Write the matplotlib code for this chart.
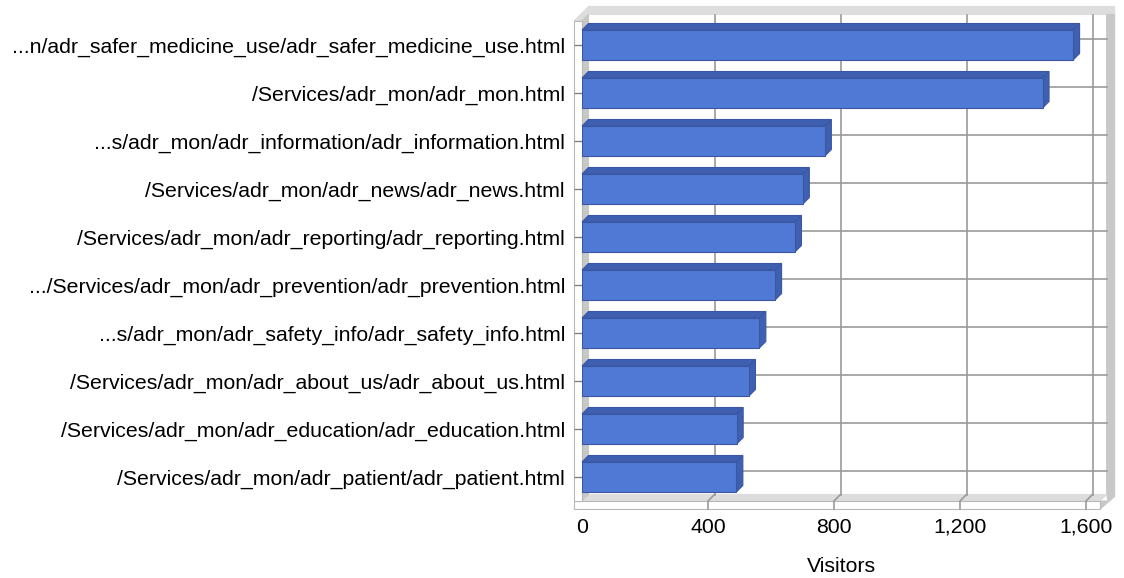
import matplotlib
matplotlib.use("Agg")
import matplotlib.pyplot as plt
from matplotlib import transforms
from matplotlib.patches import Polygon


pages = [
    "...n/adr_safer_medicine_use/adr_safer_medicine_use.html",
    "/Services/adr_mon/adr_mon.html",
    "...s/adr_mon/adr_information/adr_information.html",
    "/Services/adr_mon/adr_news/adr_news.html",
    "/Services/adr_mon/adr_reporting/adr_reporting.html",
    ".../Services/adr_mon/adr_prevention/adr_prevention.html",
    "...s/adr_mon/adr_safety_info/adr_safety_info.html",
    "/Services/adr_mon/adr_about_us/adr_about_us.html",
    "/Services/adr_mon/adr_education/adr_education.html",
    "/Services/adr_mon/adr_patient/adr_patient.html",
]
visitors = [1559, 1462, 771, 701, 676, 613, 563, 530, 491, 490]
x_ticks = [0, 400, 800, 1200, 1600]
x_tick_labels = ["0", "400", "800", "1,200", "1,600"]
x_max = 1645

FIG_W, FIG_H, DPI = 1124, 578, 100
AX_LEFT, AX_TOP, AX_BOTTOM = 582, 21, 501
PX_PER_UNIT = 0.315
AX_RIGHT = AX_LEFT + x_max * PX_PER_UNIT
DEPTH = 6.5
WALL = 8
BAR_HEIGHT = 0.625

FRONT = "#5079d5"
DARK = "#3f60b0"
EDGE = "#3a57a2"
GRID = "#9a9a9a"
WALL_SIDE = "#c8c8c8"
WALL_TOP = "#dddddd"
WALL_EDGE = "#b8b8b8"

plt.rcParams["font.family"] = ["Liberation Sans", "DejaVu Sans"]

fig = plt.figure(figsize=(FIG_W / DPI, FIG_H / DPI), dpi=DPI)
ax = fig.add_axes([
    AX_LEFT / FIG_W,
    (FIG_H - AX_BOTTOM) / FIG_H,
    (AX_RIGHT - AX_LEFT) / FIG_W,
    (AX_BOTTOM - AX_TOP) / FIG_H,
])
n = len(pages)
ax.set_xlim(0, x_max)
ax.set_ylim(n - 0.5, -0.5)
ax.patch.set_visible(False)
for spine in ax.spines.values():
    spine.set_visible(False)

px_per_cat = (AX_BOTTOM - AX_TOP) / n
ddx = DEPTH / PX_PER_UNIT
ddy = DEPTH / px_per_cat
back = ax.transData + transforms.ScaledTranslation(DEPTH / DPI, DEPTH / DPI, fig.dpi_scale_trans)

# pixel coordinates measured from the top-left of the image, for the chart walls
pix = transforms.Affine2D().scale(1, -1).translate(0, FIG_H).scale(1 / DPI) + fig.dpi_scale_trans


def wall(points, color, edge=None, z=0.5):
    ax.add_patch(Polygon(points, closed=True, transform=pix, facecolor=color,
                         edgecolor=edge if edge else color, linewidth=0.8,
                         clip_on=False, zorder=z))


L, R, T, B = AX_LEFT, AX_RIGHT, AX_TOP, AX_BOTTOM

# back wall grid
for t in x_ticks[1:]:
    ax.plot([t, t], [-0.5, n - 0.5], transform=back, color=GRID, lw=1.2,
            clip_on=False, zorder=1)
for i in range(n):
    ax.plot([0, x_max], [i, i], transform=back, color=GRID, lw=1.2,
            clip_on=False, zorder=1)

# top band, right wall, floor, left wall
wall([(L - WALL, T), (L + DEPTH, T - DEPTH - WALL), (R + DEPTH + WALL, T - DEPTH - WALL),
      (R + DEPTH + WALL, T - DEPTH), (L + DEPTH, T - DEPTH), (L, T)], WALL_TOP)
wall([(R + DEPTH, T - DEPTH), (R + DEPTH + WALL, T - DEPTH), (R + DEPTH + WALL, B - DEPTH),
      (R + WALL, B), (R + DEPTH, B - DEPTH)], WALL_SIDE)
wall([(L, B), (R, B), (R + DEPTH, B - DEPTH), (L + DEPTH, B - DEPTH)], WALL_TOP, z=0.6)
wall([(R, B), (R + WALL, B), (R + DEPTH + WALL, B - DEPTH), (R + DEPTH + WALL, B - DEPTH + 2),
      (R, B + WALL)], WALL_SIDE, z=0.6)
wall([(L - WALL, B), (R, B), (R, B + WALL), (L - WALL, B + WALL)], "white", WALL_EDGE, z=0.7)
wall([(L, T), (L + DEPTH, T - DEPTH), (L + DEPTH, B - DEPTH), (L, B)], WALL_SIDE, z=0.6)
wall([(L - WALL, T), (L, T), (L, B), (L - WALL, B)], "white", WALL_EDGE, z=0.7)

# x grid continues over the floor
floor_depth = WALL / px_per_cat
for t in x_ticks[1:]:
    ax.plot([t + ddx, t, t], [n - 0.5 - ddy, n - 0.5, n - 0.5 + floor_depth],
            color=GRID, lw=1.2, clip_on=False, zorder=0.8)

# 3D bars
ax.barh(range(n), visitors, height=BAR_HEIGHT, color=FRONT, edgecolor=EDGE,
        linewidth=0.8, zorder=3)
for i, v in enumerate(visitors):
    y0 = i - BAR_HEIGHT / 2
    y1 = i + BAR_HEIGHT / 2
    ax.add_patch(Polygon([(0, y0), (v, y0), (v + ddx, y0 - ddy), (ddx, y0 - ddy)],
                         facecolor=DARK, edgecolor=EDGE, linewidth=0.8, zorder=2.5,
                         clip_on=False))
    ax.add_patch(Polygon([(v, y0), (v, y1), (v + ddx, y1 - ddy), (v + ddx, y0 - ddy)],
                         facecolor=DARK, edgecolor=EDGE, linewidth=0.8, zorder=2.5,
                         clip_on=False))

ax.set_yticks(range(n), pages)
ax.set_xticks(x_ticks, x_tick_labels)
ax.tick_params(axis="y", length=WALL * 72 / DPI, width=1, color="#808080",
               pad=6.5, labelsize=15.3)
ax.tick_params(axis="x", length=0, pad=12, labelsize=15.3)
ax.set_xlabel("Visitors", fontsize=15.3, labelpad=15)

fig.savefig("out.png", dpi=DPI)
